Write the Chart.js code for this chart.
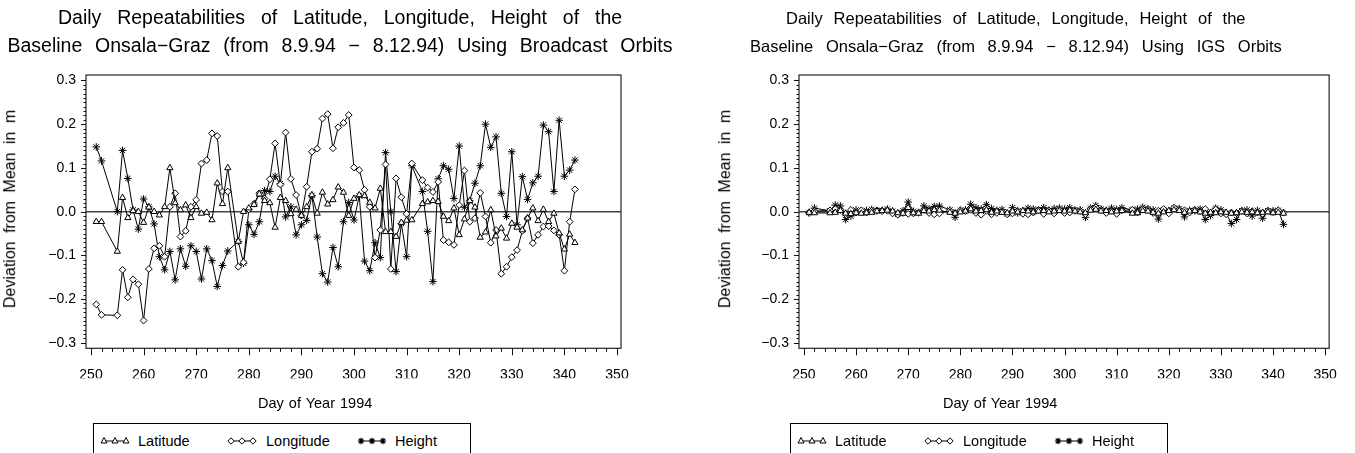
<!DOCTYPE html>
<html>
<head>
<meta charset="utf-8">
<script src="https://cdn.jsdelivr.net/npm/chart.js@4.4.1/dist/chart.umd.min.js"></script>
<style>
html,body{margin:0;padding:0;background:#fff;}
#wrap{position:relative;width:1355px;height:453px;overflow:hidden;font-family:"Liberation Sans",Arial,Helvetica,sans-serif;color:#000;background:#fff;}
canvas{position:absolute;top:0;}
.t{position:absolute;white-space:nowrap;line-height:1;color:#000;}
.lg{position:absolute;border:1px solid #000;background:#fff;box-sizing:border-box;}
.lg .it{position:absolute;font-size:14.5px;line-height:1;white-space:nowrap;}
.lg svg{position:absolute;}
</style>
</head>
<body>
<div id="wrap">
<canvas id="c1" width="677" height="453" style="left:0px"></canvas>
<canvas id="c2" width="678" height="453" style="left:677px"></canvas>
</div>
<script>
// ---------------- data ----------------
const days = [251,252,255,256,257,258,259,260,261,262,263,264,265,266,267,268,269,270,271,272,273,274,275,276,
  278,279,280,281,282,283,284,285,286,287,288,289,290,291,292,293,294,295,296,297,298,299,300,301,302,303,304,305,306,307,308,309,310,311,
  313,314,315,316,317,318,319,320,321,322,323,324,325,326,327,328,329,330,331,332,333,334,335,336,337,338,339,340,341,342];

const broadcastLatitude = [-0.023,-0.023,-0.091,0.032,-0.014,0.002,0.0,-0.025,0.01,0.0,-0.008,0.011,0.1,0.02,0.004,0.015,-0.014,0.011,-0.004,-0.002,-0.019,0.065,0.018,0.1,
  -0.068,0.0,0.008,0.016,0.04,0.025,0.02,-0.036,0.032,0.025,-0.005,0.005,-0.009,0.011,0.038,-0.004,0.044,0.017,0.027,0.056,0.044,-0.009,0.03,0.038,0.036,0.021,0.008,0.053,-0.046,-0.046,-0.057,-0.025,-0.02,-0.019,
  0.018,0.022,0.025,0.023,-0.011,-0.021,0.008,-0.053,-0.017,0.025,0.01,-0.059,-0.047,0.004,-0.056,-0.038,-0.061,-0.027,-0.036,-0.042,-0.015,0.008,-0.021,0.005,-0.023,-0.004,-0.049,-0.086,-0.052,-0.071];

const broadcastLongitude = [-0.212,-0.236,-0.237,-0.133,-0.196,-0.155,-0.166,-0.249,-0.131,-0.084,-0.078,-0.103,0.011,0.042,-0.057,-0.044,0.011,0.027,0.11,0.118,0.179,0.173,0.046,0.046,
  -0.126,-0.116,0.005,0.018,0.042,0.03,0.074,0.156,0.062,0.181,0.075,0.038,-0.009,0.057,0.137,0.144,0.213,0.223,0.145,0.193,0.203,0.221,0.101,0.095,0.05,0.011,-0.105,-0.042,0.108,-0.131,0.076,0.033,-0.005,0.11,
  0.072,0.055,0.045,0.068,-0.065,-0.07,-0.076,0.015,0.094,-0.023,-0.015,0.043,-0.011,-0.071,-0.042,-0.142,-0.126,-0.104,-0.088,-0.044,-0.015,-0.072,-0.053,-0.034,-0.033,-0.043,-0.053,-0.135,-0.023,0.051];

const broadcastHeight = [0.148,0.116,0.0,0.14,0.076,0.004,-0.04,0.029,0.011,-0.028,-0.103,-0.133,-0.091,-0.156,-0.085,-0.125,-0.078,-0.091,-0.154,-0.085,-0.112,-0.171,-0.123,-0.09,
  -0.068,-0.118,-0.03,-0.052,-0.023,0.048,0.046,0.081,0.064,-0.012,0.011,-0.053,-0.03,-0.02,0.037,-0.058,-0.142,-0.161,-0.082,-0.126,-0.023,0.021,-0.019,0.036,-0.113,-0.135,-0.071,-0.105,0.135,0.0,-0.137,-0.027,-0.103,0.105,
  0.046,-0.045,-0.16,0.075,0.105,0.097,0.03,0.15,0.01,0.025,0.065,0.105,0.2,0.147,0.171,0.042,-0.011,0.137,-0.03,0.08,0.028,0.066,0.081,0.198,0.183,0.046,0.209,0.081,0.095,0.118];

const igsLatitude = [-0.002,-0.003,-0.003,-0.002,0.002,-0.004,-0.005,-0.003,-0.004,-0.003,-0.002,0.001,0.002,0.003,0.001,-0.003,-0.004,0.009,-0.003,-0.004,0.002,0.001,0.004,0.003,
  -0.002,-0.004,-0.001,0.001,0.006,0.001,0.002,0.004,-0.002,0.001,-0.002,-0.003,0.001,-0.001,0.002,0.001,-0.001,0.001,0.002,-0.001,0.001,0.002,0.001,0.003,0.001,-0.001,-0.003,0.003,0.005,0.001,0.002,-0.001,0.001,0.002,
  -0.004,-0.003,0.002,0.001,-0.002,-0.004,-0.001,0.002,0.004,0.002,-0.002,0.001,0.002,-0.001,-0.004,-0.002,-0.003,-0.001,-0.002,-0.004,-0.003,-0.001,-0.002,-0.001,-0.003,-0.002,-0.001,-0.003,-0.002,-0.004];

const igsLongitude = [-0.003,0.001,0.003,0.006,0.004,-0.006,0.004,-0.002,0.003,-0.002,0.002,0.003,0.001,0.002,-0.004,-0.007,-0.003,-0.005,-0.004,-0.002,0.004,-0.003,-0.006,-0.004,
  0.002,-0.003,0.003,0.001,0.004,-0.003,-0.007,0.002,-0.006,-0.003,0.001,-0.006,-0.004,0.002,-0.005,-0.006,-0.002,0.004,-0.005,0.003,-0.004,0.005,-0.003,-0.002,0.004,0.002,-0.006,0.006,0.01,0.004,-0.003,0.002,-0.005,0.003,
  0.004,-0.002,0.006,0.004,-0.003,0.002,0.006,-0.004,0.009,0.005,0.003,-0.002,0.004,0.001,0.006,-0.003,0.005,-0.004,-0.006,-0.002,-0.003,0.002,-0.004,0.001,-0.002,-0.005,0.002,-0.001,0.003,-0.002];

const igsHeight = [-0.002,0.008,0.002,0.015,0.013,-0.018,-0.01,0.004,-0.001,0.003,0.005,0.002,0.003,0.006,0.001,-0.006,0.002,0.022,0.001,-0.002,0.013,0.006,0.012,0.013,
  0.004,-0.013,0.003,0.004,0.017,0.009,0.006,0.016,0.007,0.003,0.005,-0.005,0.009,-0.003,0.002,0.008,0.006,0.004,0.009,0.003,0.007,0.008,0.006,0.009,0.002,0.004,-0.013,0.008,0.014,0.006,0.003,0.008,0.005,0.009,
  0.004,0.006,0.01,0.007,0.004,-0.017,0.003,0.002,0.008,0.007,-0.012,0.003,0.002,0.006,-0.018,-0.009,0.008,0.004,-0.004,-0.027,-0.018,0.002,0.004,-0.01,0.003,-0.015,0.002,0.002,0.003,-0.029];

const xTickValues = [250,260,270,280,290,300,310,320,330,340,350];
const yTickValues = [-0.3,-0.2,-0.1,0.0,0.1,0.2,0.3];
const seriesNames = ["Latitude","Longitude","Height"];

const titleLine1 = "Daily Repeatabilities of Latitude, Longitude, Height of the";
const titleLine2Broadcast = "Baseline Onsala\u2212Graz (from 8.9.94 \u2212 8.12.94) Using Broadcast Orbits";
const titleLine2IGS = "Baseline Onsala\u2212Graz (from 8.9.94 \u2212 8.12.94) Using IGS Orbits";
const xAxisTitle = "Day of Year 1994";
const yAxisTitle = "Deviation from Mean in m";

// ---------------- chart ----------------
const FONT = '"Liberation Sans", Arial, Helvetica, sans-serif';
Chart.defaults.font.family = FONT;
Chart.defaults.color = '#000';

const frameTicks = {
  id: 'frameTicks',
  afterDraw(chart) {
    const {ctx, chartArea: a, scales: {x, y}} = chart;
    ctx.save();
    ctx.strokeStyle = '#222';
    ctx.lineWidth = 1.2;
    ctx.strokeRect(a.left, a.top, a.right - a.left, a.bottom - a.top);
    ctx.lineWidth = 1;
    ctx.strokeStyle = '#111';
    ctx.beginPath();
    for (let d = xTickValues[0]; d <= xTickValues[xTickValues.length - 1]; d += 2) {
      const px = Math.round(x.getPixelForValue(d)) + 0.5;
      const len = (d % 10 === 0) ? 7 : 3.5;
      ctx.moveTo(px, a.bottom);
      ctx.lineTo(px, a.bottom + len);
    }
    for (let k = -30; k <= 30; k++) {
      const py = Math.round(y.getPixelForValue(k / 100)) + 0.5;
      const len = (k % 10 === 0) ? 5 : 2.5;
      ctx.moveTo(a.left - len, py);
      ctx.lineTo(a.left, py);
    }
    ctx.stroke();
    ctx.restore();
  }
};

function series(arr) { return days.map((d, i) => ({x: d, y: arr[i]})); }

function makeChart(id, lat, lon, hgt, padLeft, padRight) {
  const common = {borderColor: '#000', borderWidth: 1, pointBorderColor: '#000', pointBackgroundColor: '#fff',
    pointBorderWidth: 1, pointHoverRadius: 4, tension: 0, fill: false};
  return new Chart(document.getElementById(id), {
    type: 'line',
    data: {
      datasets: [
        Object.assign({label: seriesNames[0], data: series(lat), pointStyle: 'triangle', pointRadius: 3.6}, common),
        Object.assign({label: seriesNames[1], data: series(lon), pointStyle: 'rectRot', pointRadius: 3.4}, common),
        Object.assign({label: seriesNames[2], data: series(hgt), pointStyle: 'star', pointRadius: 3.8, pointBorderWidth: 1.2}, common)
      ]
    },
    options: {
      responsive: false,
      animation: false,
      devicePixelRatio: 1,
      layout: {padding: {left: padLeft, right: padRight, top: 75, bottom: 74.7}},
      plugins: {legend: {display: false}, tooltip: {enabled: false}, title: {display: false}},
      scales: {
        x: {
          type: 'linear', min: 249.05, max: 350.76,
          afterBuildTicks: s => { s.ticks = xTickValues.map(v => ({value: v})); },
          afterFit: s => { s.height = 30; },
          ticks: {font: {size: 14}, color: '#000', padding: 18, maxRotation: 0, autoSkip: false,
            callback: v => String(v)},
          grid: {display: false, drawTicks: false},
          border: {display: false}
        },
        y: {
          type: 'linear', min: -0.3125, max: 0.3125,
          afterBuildTicks: s => { s.ticks = yTickValues.map(v => ({value: v})); },
          afterFit: s => { s.width = 60; },
          ticks: {font: {size: 14}, color: '#000', padding: 10, autoSkip: false,
            callback: v => Math.abs(v) < 1e-9 ? '0.0' : (v < 0 ? '\u2212' + Math.abs(v).toFixed(1) : v.toFixed(1))},
          grid: {display: true, drawTicks: false, lineWidth: 1.4,
            color: c => (c.tick && Math.abs(c.tick.value) < 1e-9) ? '#444' : 'rgba(0,0,0,0)'},
          border: {display: false}
        }
      }
    },
    plugins: [frameTicks]
  });
}

makeChart('c1', broadcastLatitude, broadcastLongitude, broadcastHeight, 26, 56);
makeChart('c2', igsLatitude, igsLongitude, igsHeight, 62, 20);

// ---------------- text ----------------
const wrap = document.getElementById('wrap');
function addText(str, cx, cy, size, targetWidth, rotate) {
  const el = document.createElement('div');
  el.className = 't';
  el.textContent = str;
  el.style.fontSize = size + 'px';
  wrap.appendChild(el);
  let w = el.offsetWidth;
  const n = (str.match(/ /g) || []).length;
  if (targetWidth && n) {
    el.style.wordSpacing = ((targetWidth - w) / n) + 'px';
    w = el.offsetWidth;
  }
  const h = el.offsetHeight;
  el.style.left = (cx - w / 2) + 'px';
  el.style.top = (cy - h / 2) + 'px';
  if (rotate) el.style.transform = 'rotate(-90deg)';
  return el;
}

addText(titleLine1, 340, 18, 19.5, 564);
addText(titleLine2Broadcast, 340, 46, 19.5, 665);
addText(yAxisTitle, 10, 209, 16, 198, true);
addText(xAxisTitle, 315, 403, 14.5, 114);

addText(titleLine1, 1016, 18, 16.5, 460);
addText(titleLine2IGS, 1016, 46, 16.5, 532);
addText(yAxisTitle, 725, 209, 16, 198, true);
addText(xAxisTitle, 1000, 403, 14.5, 114);

// legend
function symbolSVG(kind) {
  const ns = 'http://www.w3.org/2000/svg';
  const svg = document.createElementNS(ns, 'svg');
  svg.setAttribute('width', '30'); svg.setAttribute('height', '12');
  let s = '<line x1="3" y1="6" x2="27" y2="6" stroke="#000" stroke-width="1"/>';
  [4, 15, 26].forEach(cx => {
    if (kind === 0) s += `<polygon points="${cx},2.5 ${cx-3},8 ${cx+3},8" fill="#fff" stroke="#000" stroke-width="1"/>`;
    else if (kind === 1) s += `<polygon points="${cx},2.8 ${cx+3.2},6 ${cx},9.2 ${cx-3.2},6" fill="#fff" stroke="#000" stroke-width="1"/>`;
    else s += `<path d="M${cx-3.2} 6H${cx+3.2}M${cx} 2.8V9.2M${cx-2.3} 3.7L${cx+2.3} 8.3M${cx-2.3} 8.3L${cx+2.3} 3.7" stroke="#000" stroke-width="1.2"/>`;
  });
  svg.innerHTML = s;
  return svg;
}
function addLegend(left, top) {
  const box = document.createElement('div');
  box.className = 'lg';
  box.style.left = left + 'px'; box.style.top = top + 'px';
  box.style.width = '378px'; box.style.height = '45px';
  const symX = [6, 133, 263], txtX = [44, 172, 301];
  seriesNames.forEach((name, i) => {
    const svg = symbolSVG(i);
    svg.style.left = symX[i] + 'px'; svg.style.top = '11px';
    box.appendChild(svg);
    const t = document.createElement('div');
    t.className = 'it'; t.textContent = name;
    t.style.left = txtX[i] + 'px'; t.style.top = '10px';
    box.appendChild(t);
  });
  wrap.appendChild(box);
}
addLegend(93, 423);
addLegend(790, 423);
</script>
</body>
</html>
